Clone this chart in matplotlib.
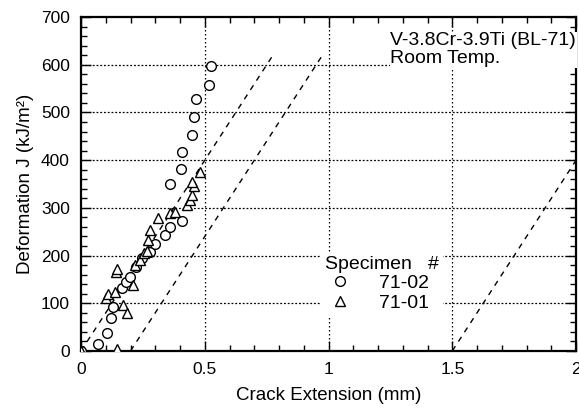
import numpy as np
import matplotlib
matplotlib.use("Agg")
from matplotlib import pyplot as plt
from matplotlib.ticker import MultipleLocator

# データ (71-02: circles)
x_0102 = [0.0, 0.07, 0.104, 0.12, 0.13, 0.164, 0.18, 0.198, 0.22, 0.245, 0.279, 0.30, 0.34, 0.36, 0.407,
          0.36, 0.404, 0.408, 0.447, 0.458, 0.465, 0.518, 0.524]
j_0102 = [0, 14, 37, 68, 92, 131, 145, 155, 175, 195, 208, 225, 243, 260, 273,
          350, 382, 418, 452, 490, 528, 558, 597]

# データ (71-01: triangles)
x_0101 = [0.0, 0.144, 0.10, 0.11, 0.137, 0.14, 0.144, 0.171, 0.185, 0.211, 0.218, 0.238, 0.255, 0.267,
          0.272, 0.279, 0.312, 0.36, 0.38, 0.427, 0.44, 0.447, 0.455, 0.447, 0.48]
j_0101 = [0, 3, 110, 119, 124, 165, 172, 96, 80, 138, 180, 190, 205, 210,
          232, 253, 278, 289, 292, 306, 317, 327, 345, 355, 375]

# blunting line offsets
offsets = [0.0, 0.2, 1.5]
slope = 800.0
j_top = 620.0

FONT = "Liberation Sans"
plt.rcParams["font.family"] = [FONT, "DejaVu Sans"]


def main():
  fig = plt.figure(figsize=(5.79, 4.08), dpi=100)
  ax = fig.add_axes([0.14, 0.14, 0.855, 0.818])

  # grid
  for gx in [0.5, 1.0, 1.5]:
    ax.plot([gx, gx], [0, 700], color="black", lw=0.9, ls=(0, (1.2, 2)), zorder=1)
  for gy in [100, 200, 300, 400, 500, 600]:
    ax.plot([0, 2], [gy, gy], color="black", lw=0.9, ls=(0, (1.5, 1.5)), zorder=1)

  # blunting lines
  for off in offsets:
    xe = min(off + j_top / slope, 2.0)
    ye = (xe - off) * slope
    ax.plot([off, xe], [0, ye], color="black", lw=1.0, ls=(0, (4, 4)), zorder=2)

  ax.plot(x_0102, j_0102, ls="none", marker="o", ms=7, mfc="white", mec="black",
          mew=1.0, label="71-02", zorder=3)
  ax.plot(x_0101, j_0101, ls="none", marker="^", ms=7.5, mfc="white", mec="black",
          mew=1.0, label="71-01", zorder=3)

  ax.set_xlim(0, 2)
  ax.set_ylim(0, 700)
  ax.set_xticks([0, 0.5, 1, 1.5, 2])
  ax.set_xticklabels(["0", "0.5", "1", "1.5", "2"])
  ax.xaxis.set_minor_locator(MultipleLocator(0.1))
  ax.yaxis.set_major_locator(MultipleLocator(100))
  ax.yaxis.set_minor_locator(MultipleLocator(20))
  ax.tick_params(which="both", direction="in", top=True, right=True, width=1.0,
                 labelsize=12.5)
  ax.tick_params(which="major", length=7, pad=8)
  ax.tick_params(which="minor", length=4)
  for s in ax.spines.values():
    s.set_linewidth(1.6)

  ax.set_xlabel("Crack Extension (mm)", fontsize=13.5, labelpad=7)
  ax.set_ylabel("Deformation J (kJ/m²)", fontsize=13.5, labelpad=5)

  ax.text(1.25, 668, "V-3.8Cr-3.9Ti (BL-71)\nRoom Temp.", fontsize=14, ha="left", va="top",
          linespacing=1.05, zorder=4, bbox=dict(facecolor="white", edgecolor="none", pad=0.5))

  leg = ax.legend(title="Specimen   #", loc="upper left", bbox_to_anchor=(0.485, 0.297),
                  fontsize=14, title_fontsize=14, frameon=True, fancybox=False,
                  handletextpad=1.25, borderpad=0.2, labelspacing=0.1, handlelength=1.5,
                  borderaxespad=0, markerscale=1.0)
  leg.get_frame().set_facecolor("white")
  leg.get_frame().set_edgecolor("none")
  leg.get_frame().set_alpha(1.0)
  leg._legend_box.align = "left"
  leg.set_zorder(5)

  fig.savefig("out.png", dpi=100)


if __name__ == "__main__":
  main()
